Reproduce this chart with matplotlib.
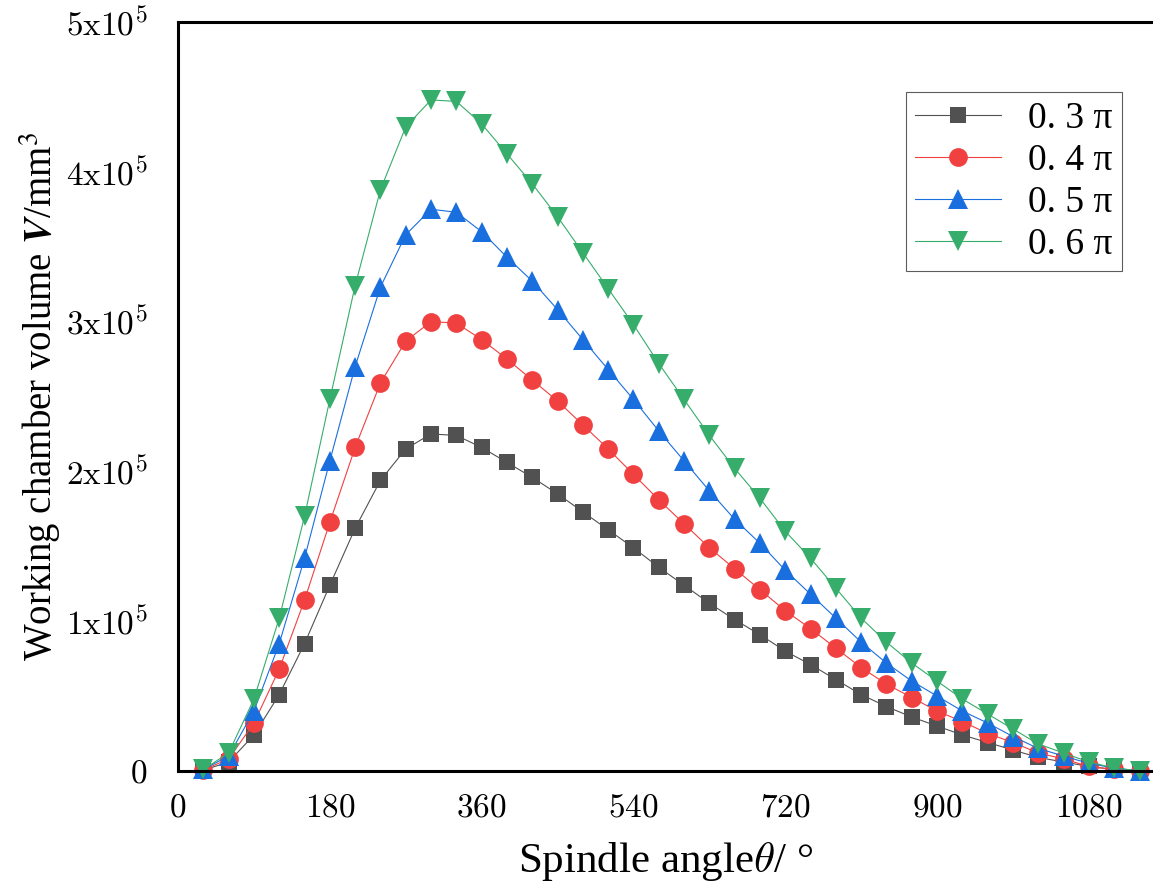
import matplotlib
matplotlib.use("Agg")
import matplotlib.pyplot as plt
from matplotlib.ticker import FuncFormatter

angle = list(range(30, 1141, 30))

v03 = [0.005, 0.06, 0.24, 0.51, 0.85, 1.24, 1.62, 1.94, 2.15, 2.25, 2.24, 2.16, 2.06,
       1.96, 1.85, 1.73, 1.61, 1.49, 1.36, 1.24, 1.12, 1.01, 0.91, 0.80, 0.71, 0.61,
       0.51, 0.43, 0.36, 0.30, 0.24, 0.19, 0.14, 0.09, 0.06, 0.03, 0.01, 0.0]
v04 = [0.007, 0.08, 0.32, 0.68, 1.14, 1.66, 2.16, 2.59, 2.87, 3.00, 2.99, 2.88, 2.75,
       2.61, 2.47, 2.31, 2.15, 1.98, 1.81, 1.65, 1.49, 1.35, 1.21, 1.07, 0.95, 0.82,
       0.69, 0.58, 0.49, 0.40, 0.33, 0.25, 0.19, 0.12, 0.08, 0.03, 0.01, 0.0]
v05 = [0.01, 0.10, 0.40, 0.85, 1.42, 2.07, 2.70, 3.23, 3.58, 3.75, 3.73, 3.60, 3.43,
       3.27, 3.08, 2.88, 2.68, 2.48, 2.27, 2.07, 1.87, 1.68, 1.52, 1.34, 1.18, 1.02,
       0.86, 0.72, 0.60, 0.50, 0.40, 0.32, 0.23, 0.15, 0.10, 0.05, 0.02, 0.0]
v06 = [0.01, 0.12, 0.48, 1.02, 1.70, 2.48, 3.24, 3.88, 4.30, 4.48, 4.47, 4.32, 4.12,
       3.92, 3.70, 3.46, 3.22, 2.98, 2.72, 2.48, 2.24, 2.02, 1.82, 1.60, 1.42, 1.22,
       1.02, 0.86, 0.72, 0.60, 0.48, 0.38, 0.28, 0.18, 0.12, 0.06, 0.02, 0.0]

labels = ["0. 3 π", "0. 4 π", "0. 5 π", "0. 6 π"]
xticks = [0, 180, 360, 540, 720, 900, 1080]

plt.rcParams["font.family"] = ["Liberation Serif", "DejaVu Serif"]

fig = plt.figure(figsize=(11.53, 8.88), dpi=100)
ax = fig.add_axes([0.1544, 0.1318, 0.8456, 0.8434])

series = [
    (v03, "#515151", "s", 12),
    (v04, "#F14040", "o", 13.5),
    (v05, "#1A6FDF", "^", 14),
    (v06, "#37AD6B", "v", 14),
]
for (vals, col, mk, ms), lab in zip(series, labels):
    ax.plot(angle, [v * 1e5 for v in vals], color=col, lw=0.8, marker=mk,
            markersize=ms, markeredgewidth=0, label=lab, clip_on=False)

ax.set_xlim(0, 1156)
ax.set_ylim(0, 5e5)
ax.set_xticks(xticks)
ax.set_xticklabels([r"$%d$" % t for t in xticks])
ax.set_yticks([0, 1e5, 2e5, 3e5, 4e5, 5e5])
ax.yaxis.set_major_formatter(FuncFormatter(
    lambda v, p: r"$0$" if v == 0 else r"$%d\mathrm{x}10^5$" % round(v / 1e5)))
for t in ax.get_xticklabels() + ax.get_yticklabels():
    t.set_math_fontfamily("cm")
    t.set_fontsize(24)
ax.tick_params(axis="x", length=0, pad=16)
ax.tick_params(axis="y", length=0, pad=22)

for s in ["left", "bottom", "top"]:
    ax.spines[s].set_linewidth(2.2)
ax.spines["right"].set_visible(False)

ax.set_xlabel(r"Spindle angle$\theta$/ °", fontsize=31, math_fontfamily="cm", labelpad=12)
ax.set_ylabel(r"Working chamber volume $\mathbfit{V}$/mm$^3$", fontsize=28,
              math_fontfamily="stix", labelpad=2)

leg = ax.legend(loc="upper right", bbox_to_anchor=(0.9727, 0.8964),
                bbox_transform=fig.transFigure, fontsize=27, frameon=True,
                fancybox=False, edgecolor="#333333", handlelength=2.3,
                handletextpad=0.7, borderpad=0.25, labelspacing=0.2,
                borderaxespad=0)
leg.get_frame().set_linewidth(0.8)

fig.savefig("out.png", dpi=100)
